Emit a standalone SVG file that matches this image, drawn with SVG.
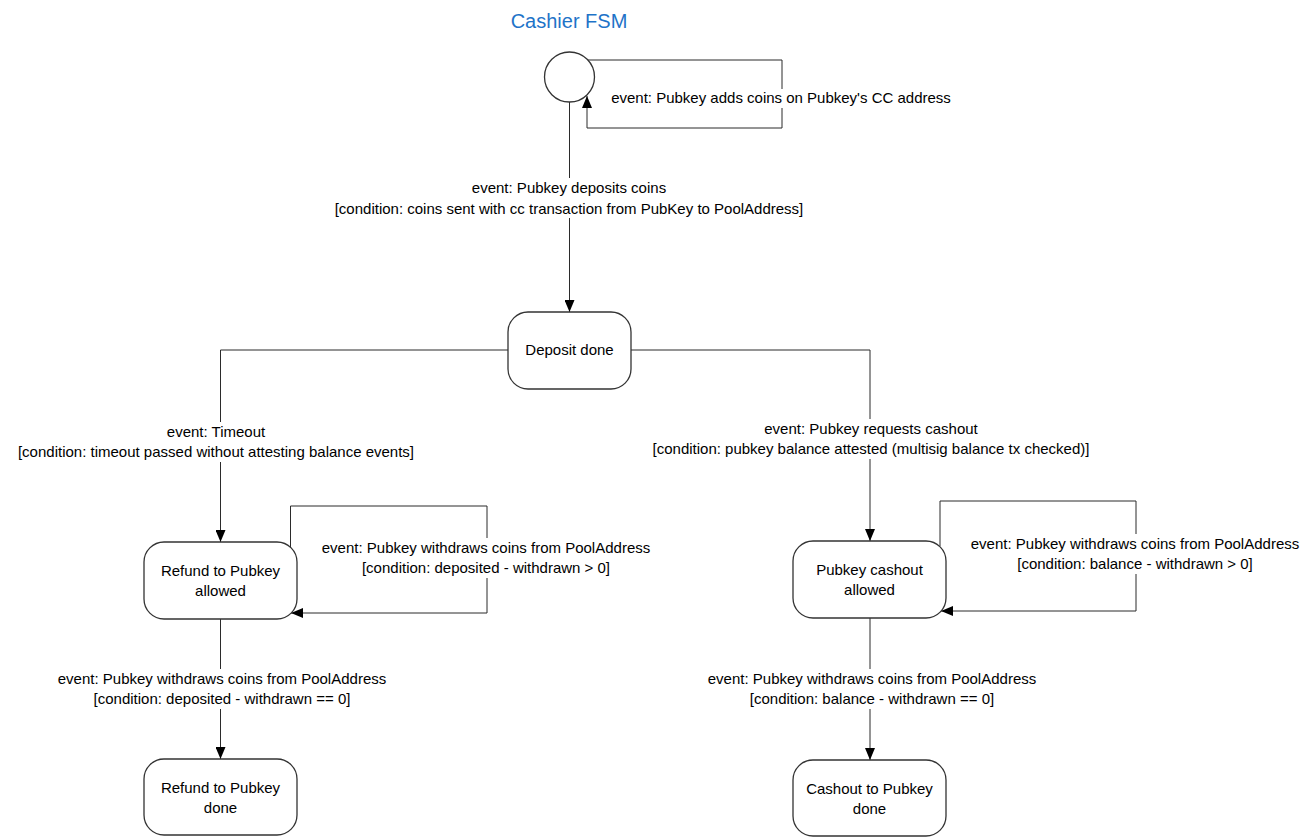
<svg xmlns="http://www.w3.org/2000/svg" width="1311" height="838" viewBox="0 0 1311 838">
  <style>
    .node { fill: #ffffff; stroke: #333333; stroke-width: 1.3; }
    .edge { fill: none; stroke: #2b2b2b; stroke-width: 1; }
    .lbl-bg { fill: #ffffff; stroke: none; }
    text { font-family: "Liberation Sans", Arial, sans-serif; font-size: 15px; fill: #000000; text-anchor: middle; }
    .title { font-size: 20px; fill: #1e73c8; }
  </style>
  <defs>
    <marker id="arrow" viewBox="0 0 12 10" refX="12" refY="5" markerWidth="12" markerHeight="10" markerUnits="userSpaceOnUse" orient="auto">
      <path d="M0,0 L12,5 L0,10 Z" fill="#000000"/>
    </marker>
  </defs>

  <rect width="1311" height="838" fill="#ffffff"/>

  <text class="title" x="569" y="28">Cashier FSM</text>

  <!-- transitions -->
  <g id="connectors">
    <!-- initial self loop -->
    <path class="edge" d="M588,60 H782 V128 H587 V96" marker-end="url(#arrow)"/>
    <!-- initial to deposit -->
    <path class="edge" d="M569.5,102 V312" marker-end="url(#arrow)"/>
    <!-- deposit to refund allowed -->
    <path class="edge" d="M508,350 H220.5 V542" marker-end="url(#arrow)"/>
    <!-- deposit to cashout allowed -->
    <path class="edge" d="M631,350 H870 V541" marker-end="url(#arrow)"/>
    <!-- refund self loop -->
    <path class="edge" d="M290.5,548 V506 H487 V613 H291" marker-end="url(#arrow)"/>
    <!-- cashout self loop -->
    <path class="edge" d="M940,546 V501 H1136 V611 H941" marker-end="url(#arrow)"/>
    <!-- refund allowed to refund done -->
    <path class="edge" d="M220.5,619 V759" marker-end="url(#arrow)"/>
    <!-- cashout allowed to cashout done -->
    <path class="edge" d="M870,618 V760" marker-end="url(#arrow)"/>
  </g>

  <!-- transition labels -->
  <g id="edge-labels">
    <rect class="lbl-bg" x="612" y="89" width="338" height="19"/>
    <text x="781" y="103">event: Pubkey adds coins on Pubkey's CC address</text>

    <rect class="lbl-bg" x="326" y="178" width="486" height="40"/>
    <text x="569" y="193">event: Pubkey deposits coins</text>
    <text x="569" y="214">[condition: coins sent with cc transaction from PubKey to PoolAddress]</text>

    <rect class="lbl-bg" x="6" y="422" width="420" height="40"/>
    <text x="216" y="437">event: Timeout</text>
    <text x="216" y="457">[condition: timeout passed without attesting balance events]</text>

    <rect class="lbl-bg" x="644" y="419" width="456" height="40"/>
    <text x="871" y="434">event: Pubkey requests cashout</text>
    <text x="871" y="454">[condition: pubkey balance attested (multisig balance tx checked)]</text>

    <rect class="lbl-bg" x="314" y="538" width="344" height="40"/>
    <text x="486" y="553">event: Pubkey withdraws coins from PoolAddress</text>
    <text x="486" y="573">[condition: deposited - withdrawn &gt; 0]</text>

    <rect class="lbl-bg" x="964" y="534" width="344" height="40"/>
    <text x="1135" y="549">event: Pubkey withdraws coins from PoolAddress</text>
    <text x="1135" y="569">[condition: balance - withdrawn &gt; 0]</text>

    <rect class="lbl-bg" x="50" y="669" width="344" height="40"/>
    <text x="222" y="684">event: Pubkey withdraws coins from PoolAddress</text>
    <text x="222" y="704">[condition: deposited - withdrawn == 0]</text>

    <rect class="lbl-bg" x="700" y="669" width="344" height="40"/>
    <text x="872" y="684">event: Pubkey withdraws coins from PoolAddress</text>
    <text x="872" y="704">[condition: balance - withdrawn == 0]</text>
  </g>

  <g id="initial">
    <circle class="node" cx="569.5" cy="77" r="25"/>
  </g>

  <g id="deposit-done">
    <rect class="node" x="508" y="312" width="123" height="77" rx="20"/>
    <text x="569.5" y="355">Deposit done</text>
  </g>

  <g id="refund-allowed">
    <rect class="node" x="144" y="542" width="153" height="77" rx="20"/>
    <text x="220.5" y="576">Refund to Pubkey</text>
    <text x="220.5" y="596">allowed</text>
  </g>

  <g id="cashout-allowed">
    <rect class="node" x="793" y="541" width="153" height="77" rx="20"/>
    <text x="869.5" y="575">Pubkey cashout</text>
    <text x="869.5" y="595">allowed</text>
  </g>

  <g id="refund-done">
    <rect class="node" x="144" y="759" width="153" height="76" rx="20"/>
    <text x="220.5" y="793">Refund to Pubkey</text>
    <text x="220.5" y="813">done</text>
  </g>

  <g id="cashout-done">
    <rect class="node" x="793" y="760" width="153" height="76" rx="20"/>
    <text x="869.5" y="794">Cashout to Pubkey</text>
    <text x="869.5" y="814">done</text>
  </g>
</svg>
